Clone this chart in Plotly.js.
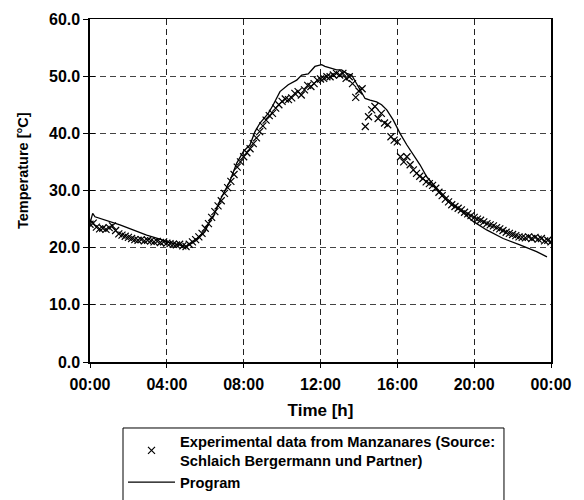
<!DOCTYPE html>
<html>
<head>
<meta charset="utf-8">
<script src="https://cdn.plot.ly/plotly-3.0.1.min.js"></script>
<style>html,body{margin:0;padding:0;background:#fff;}#chart{width:584px;height:500px;}</style>
</head>
<body>
<div id="chart"></div>
<script>
// Experimental data (10-minute samples), one row per hour
const expStepMinutes = 10;
const expHourRows = [
  [24.1, 24.3, 23.6, 23.3, 23.4, 23.2],
  [23.5, 23.8, 23.0, 22.4, 22.2, 22.0],
  [21.8, 21.6, 21.4, 21.3, 21.4, 21.2],
  [21.3, 21.2, 21.0, 21.1, 20.9, 21.0],
  [20.8, 20.7, 20.6, 20.5, 20.6, 20.3],
  [20.2, 20.6, 21.0, 21.4, 21.9, 22.5],
  [23.4, 24.2, 25.3, 26.3, 27.3, 28.2],
  [29.5, 30.5, 31.6, 32.8, 34.1, 35.0],
  [35.9, 36.6, 37.3, 38.2, 39.2, 40.3],
  [41.3, 42.3, 43.1, 43.5, 44.4, 45.0],
  [45.6, 46.0, 45.9, 46.2, 47.0, 47.3],
  [46.7, 47.6, 48.4, 48.2, 48.7, 49.3],
  [49.5, 49.6, 49.9, 49.9, 50.2, 50.5],
  [50.2, 50.5, 49.6, 49.9, 48.7, 46.3],
  [47.4, 47.8, 41.2, 42.9, 44.1, 44.7],
  [42.6, 43.5, 41.8, 41.5, 39.4, 38.8],
  [38.5, 35.9, 35.0, 35.9, 34.5, 33.6],
  [33.0, 32.5, 32.1, 31.5, 31.2, 30.9],
  [30.4, 29.7, 29.1, 28.5, 28.0, 27.5],
  [27.2, 26.9, 26.6, 26.2, 25.9, 25.6],
  [25.3, 25.0, 24.8, 24.5, 24.2, 24.0],
  [23.8, 23.5, 23.3, 23.0, 22.7, 22.5],
  [22.3, 22.1, 21.9, 21.8, 21.7, 21.9],
  [21.6, 21.8, 21.5, 21.6, 21.2, 21.3],
  [21.0]
];

// Program (simulation) curve
const progHours = [0, 0.14, 0.26, 1.56, 2.24, 2.95, 3.64, 3.99, 4.51, 5.03, 5.55, 5.99, 6.25, 6.42, 6.77, 7.12, 7.29, 7.64, 7.9, 7.98, 8.33, 8.59, 8.85, 9.28, 9.54, 9.89, 10.32, 10.76, 11.02, 11.36, 11.71, 12.06, 12.23, 12.49, 12.84, 13.1, 13.36, 13.62, 13.88, 14.14, 14.32, 14.58, 14.92, 15.18, 15.45, 15.79, 16.14, 16.49, 16.83, 17.18, 17.53, 18.05, 18.57, 19.26, 19.95, 20.65, 21.51, 22.38, 23.25, 23.79];
const progTemps = [24.3, 26.0, 25.4, 24.0, 23.1, 22.2, 21.5, 21.0, 20.6, 20.2, 21.3, 22.8, 24.8, 25.4, 28.3, 30.6, 31.7, 34.8, 36.2, 36.8, 38.0, 40.3, 41.8, 43.5, 45.0, 47.3, 48.5, 49.3, 50.2, 50.4, 51.7, 52.0, 51.7, 51.5, 51.1, 51.1, 50.5, 50.2, 48.7, 47.3, 46.1, 45.8, 45.5, 45.0, 44.1, 42.3, 40.0, 38.0, 36.2, 34.5, 32.4, 30.4, 28.6, 26.6, 24.6, 23.1, 21.6, 20.5, 19.3, 18.4];

const xTickVals = [0, 4, 8, 12, 16, 20, 24];
const xTickText = ['00:00', '04:00', '08:00', '12:00', '16:00', '20:00', '00:00'];
const yTickVals = [0, 10, 20, 30, 40, 50, 60];

const expTemps = [];
const expHours = [];
expHourRows.forEach(function (row, h) {
  row.forEach(function (v, k) {
    expHours.push(h + k * expStepMinutes / 60);
    expTemps.push(v);
  });
});

const FONT = 'Liberation Sans, Arial, Helvetica, sans-serif';

const traces = [
  {
    x: expHours, y: expTemps, type: 'scatter', mode: 'markers',
    name: 'Experimental data from Manzanares (Source:<br>Schlaich Bergermann und Partner)',
    marker: {symbol: 'x-thin-open', size: 7, color: '#000', line: {color: '#000', width: 1.2}}
  },
  {
    x: progHours, y: progTemps, type: 'scatter', mode: 'lines',
    name: 'Program',
    line: {color: '#000', width: 1.3}
  },
  {x: [], y: [], yaxis: 'y2', showlegend: false, hoverinfo: 'skip'}
];

const layout = {
  width: 584, height: 500,
  margin: {l: 90, r: 33, t: 19, b: 138, autoexpand: false},
  paper_bgcolor: '#fff', plot_bgcolor: '#fff',
  font: {family: FONT, color: '#000', size: 14, weight: 'bold'},
  showlegend: true,
  xaxis: {
    range: [0, 24], tickvals: xTickVals, ticktext: xTickText,
    showgrid: true, gridcolor: '#222', gridwidth: 1, griddash: '6px,4px',
    zeroline: false, showline: true, linecolor: '#000', linewidth: 1.5, mirror: true,
    ticks: 'outside', ticklen: 4, tickcolor: '#000', tickwidth: 1, ticklabelstandoff: 3,
    tickfont: {family: FONT, size: 16, color: '#000', weight: 'bold'},
    title: {text: 'Time [h]', font: {family: FONT, size: 17, color: '#000', weight: 'bold'}, standoff: 12}
  },
  yaxis: {
    range: [0, 60], tickvals: yTickVals, tickformat: '.1f',
    showgrid: true, gridcolor: '#444', gridwidth: 1, griddash: '6px,4px',
    zeroline: false, showline: true, linecolor: '#000', linewidth: 1.6, mirror: true,
    ticks: 'outside', ticklen: 5, tickcolor: '#000', tickwidth: 1,
    tickfont: {family: FONT, size: 16, color: '#000', weight: 'bold'}
  },
  yaxis2: {
    range: [0, 60], tickvals: yTickVals, overlaying: 'y', anchor: 'x', side: 'left',
    showticklabels: false, showgrid: false, zeroline: false, showline: false,
    ticks: 'inside', ticklen: 5, tickcolor: '#000', tickwidth: 1
  },
  annotations: [{
    text: 'Temperature [°C]', textangle: -90, showarrow: false,
    xref: 'paper', yref: 'paper', x: -0.145, y: 0.557, xanchor: 'center', yanchor: 'middle',
    font: {family: FONT, size: 14.5, color: '#000', weight: 'bold'}
  }],
  legend: {
    x: 0.0716, y: -0.183, xanchor: 'left', yanchor: 'top',
    borderwidth: 0, bgcolor: 'rgba(0,0,0,0)',
    font: {family: FONT, size: 14.7, color: '#000', weight: 'bold'},
    itemwidth: 47, tracegroupgap: 4
  },
  shapes: [{
    type: 'rect', xref: 'paper', yref: 'paper',
    x0: 0.0716, x1: 0.898, y0: -0.1924, y1: -0.42,
    line: {color: '#000', width: 1}, fillcolor: 'rgba(0,0,0,0)', layer: 'below'
  }]
};

Plotly.newPlot('chart', traces, layout, {staticPlot: true, displayModeBar: false});
</script>
</body>
</html>
